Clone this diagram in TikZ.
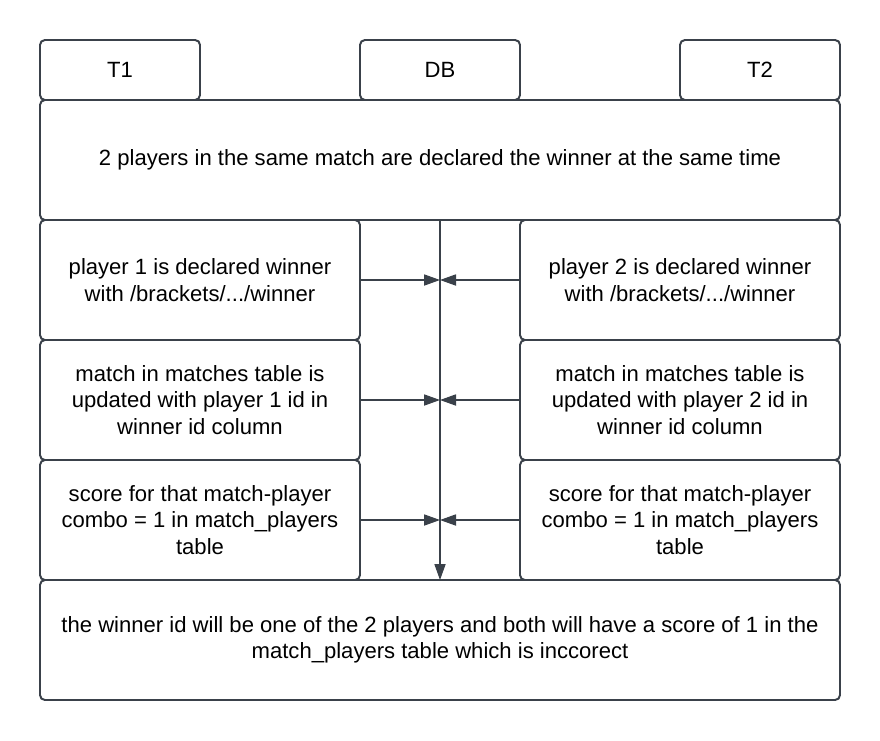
\documentclass[tikz,border=0pt]{standalone}
\usepackage{fontspec}
\setmainfont{Liberation Sans}
\usepackage{xcolor}
\usepackage{tikz}
\usetikzlibrary{arrows.meta, positioning}

\definecolor{edge}{HTML}{3A414A}

\begin{document}
\begin{tikzpicture}[
    font=\fontsize{15.7}{18.8}\selectfont,
    >={Triangle[length=0.4cm, width=0.28cm]},
    box/.style={rectangle, draw=edge, line width=1.4pt, rounded corners=3.5pt, outer sep=0pt, align=center},
    tag/.style={box, minimum width=4cm, minimum height=1.5cm},
    wide/.style={box, minimum width=20cm, minimum height=3cm},
    side/.style={box, minimum width=8cm, minimum height=3cm},
    link/.style={draw=edge, line width=0.8pt},
]
\useasboundingbox (0,0) rectangle (22,-18.5);

% Threads and DB
\node (db) [tag] at (11,-1.75) {DB};
\node (t1) [tag, left=4cm of db] {T1};
\node (t2) [tag, right=4cm of db] {T2};

% Race
\node (race) [wide, below=0pt of db] {2 players in the same match are declared the winner at the same time};

% T1 steps
\node (l1) [side, below right=0pt of race.south west] {player 1 is declared winner\\with /brackets/.../winner};
\node (l2) [side, below=0pt of l1] {match in matches table is\\updated with player 1 id in\\winner id column};
\node (l3) [side, below=0pt of l2] {score for that match-player\\combo = 1 in match\_players\\table};

% T2 steps
\node (r1) [side, below left=0pt of race.south east] {player 2 is declared winner\\with /brackets/.../winner};
\node (r2) [side, below=0pt of r1] {match in matches table is\\updated with player 2 id in\\winner id column};
\node (r3) [side, below=0pt of r2] {score for that match-player\\combo = 1 in match\_players\\table};

% Result
\node (result) [wide, below right=0pt of l3.south west] {the winner id will be one of the 2 players and both will have a score of 1 in the\\match\_players table which is inccorect};

% Arrows
\draw [link, ->] (race.south) -- (result.north);
\draw [link, ->] (l1.east) -- (l1.east -| race.south);
\draw [link, ->] (r1.west) -- (r1.west -| race.south);
\draw [link, ->] (l2.east) -- (l2.east -| race.south);
\draw [link, ->] (r2.west) -- (r2.west -| race.south);
\draw [link, ->] (l3.east) -- (l3.east -| race.south);
\draw [link, ->] (r3.west) -- (r3.west -| race.south);

\end{tikzpicture}
\end{document}
